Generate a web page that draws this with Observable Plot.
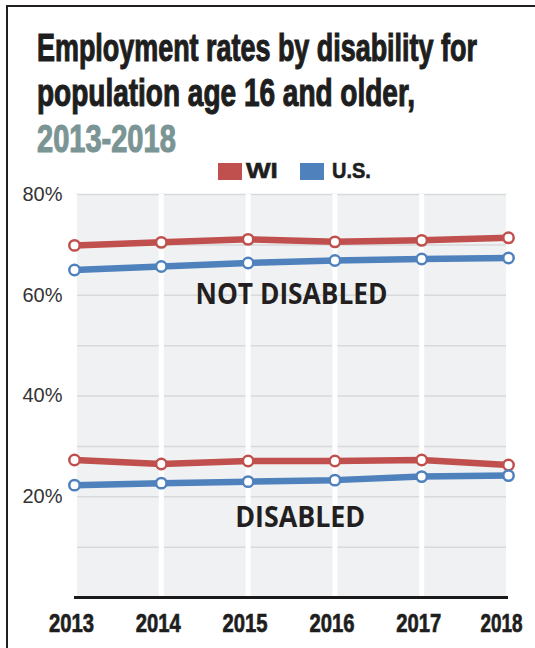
<!DOCTYPE html>
<html><head><meta charset="utf-8">
<script src="https://cdn.jsdelivr.net/npm/d3@7"></script>
<script src="https://cdn.jsdelivr.net/npm/@observablehq/plot@0.6"></script>
<style>
body{margin:0;background:#fff;}
#page{position:relative;width:535px;height:648px;overflow:hidden;background:#fff;}
#frame{position:absolute;left:6px;top:5px;width:600px;height:700px;border-left:2px solid #231f20;border-top:2px solid #231f20;}
.fit{position:absolute;white-space:nowrap;transform-origin:0 0;font-family:"Liberation Sans Narrow","Liberation Sans",Arial,sans-serif;font-weight:bold;}
.t{left:37px;font-size:38px;line-height:38px;color:#1e1e1e;-webkit-text-stroke:1.1px #1e1e1e;}
.lg{font-size:22px;line-height:22px;color:#1e1e1e;-webkit-text-stroke:0.6px #1e1e1e;}
.sw{position:absolute;width:24px;height:17px;top:163px;}
#chart{position:absolute;left:0;top:182px;}
</style></head>
<body><div id="page">
<div id="frame"></div>
<div class="fit t" id="t1" style="top:29px">Employment rates by disability for</div>
<div class="fit t" id="t2" style="top:74px">population age 16 and older,</div>
<div class="fit t" id="t3" style="top:120px;color:#7b9595;-webkit-text-stroke:1.1px #7b9595">2013-2018</div>
<div class="sw" style="left:218px;background:#c0504d"></div>
<div class="fit lg" id="l1" style="left:246px;top:160px">WI</div>
<div class="sw" style="left:300px;background:#4f81bd"></div>
<div class="fit lg" id="l2" style="left:332px;top:160px">U.S.</div>
<div id="chart"></div>
</div>
<script>
const years = [2013, 2014, 2015, 2016, 2017, 2018];
const wiNotDisabled = [69.9, 70.5, 71.1, 70.6, 70.9, 71.4];
const usNotDisabled = [65.0, 65.7, 66.4, 66.9, 67.2, 67.4];
const wiDisabled = [27.3, 26.5, 27.1, 27.1, 27.3, 26.3];
const usDisabled = [22.3, 22.7, 23.0, 23.3, 24.0, 24.2];
const regions = ["WI", "U.S."];
const regionColors = ["#c0504d", "#4f81bd"];
const yTicks = [20, 40, 60, 80];
const gridValues = [10, 20, 30, 40, 50, 60, 70, 80];
const labels = [
  {label: "NOT DISABLED", year: 2015.5, value: 60.1},
  {label: "DISABLED", year: 2015.6, value: 15.9}
];

const series = [
  {name: "WI not disabled", region: "WI", values: wiNotDisabled},
  {name: "U.S. not disabled", region: "U.S.", values: usNotDisabled},
  {name: "WI disabled", region: "WI", values: wiDisabled},
  {name: "U.S. disabled", region: "U.S.", values: usDisabled}
];
const rows = series.flatMap(s => s.values.map((v, i) => ({series: s.name, region: s.region, year: years[i], value: v})));

function fit(id, w) {
  const el = document.getElementById(id);
  el.style.transform = `scaleX(${w / el.offsetWidth})`;
}
fit("t1", 440); fit("t2", 378); fit("t3", 139);
fit("l1", 32); fit("l2", 39);

const chart = Plot.plot({
  width: 535, height: 466,
  marginTop: 12, marginBottom: 51, marginLeft: 74, marginRight: 27,
  x: {type: "linear", domain: [2013, 2018]},
  y: {domain: [0, 80]},
  color: {domain: regions, range: regionColors},
  style: {background: "transparent", overflow: "visible"},
  marks: [
    Plot.frame({fill: "#f0f1f3", stroke: "none"}),
    Plot.ruleY(gridValues, {stroke: "#d8d9db", strokeWidth: 1.5}),
    Plot.ruleX(years, {stroke: "#ffffff", strokeWidth: 5}),
    Plot.ruleY([0], {stroke: "#1a1a1a", strokeWidth: 3}),
    Plot.axisY(yTicks, {tickSize: 0, tickPadding: 12, tickFormat: d => d + "%", fontSize: 20,
      fontFamily: "'Liberation Sans', Arial, sans-serif", fill: "#333", label: null}),
    Plot.axisX(years, {tickSize: 0, tickPadding: 16, dx: -3, tickFormat: d => String(d), fontSize: 26, fontWeight: "bold",
      fontFamily: "'Liberation Sans Narrow','Liberation Sans', Arial, sans-serif", fill: "#1e1e1e", label: null}),
    Plot.line(rows, {x: "year", y: "value", z: "series", stroke: "region", strokeWidth: 6.5}),
    Plot.dot(rows, {x: "year", y: "value", stroke: "region", fill: "white", r: 5.2, strokeWidth: 2.5}),
    Plot.text(labels, {x: "year", y: "value", text: "label", fontSize: 29, fontWeight: "bold",
      fontFamily: "'Open Sans', sans-serif", fill: "#231f20"})
  ]
});
document.getElementById("chart").appendChild(chart);
const fits = {"NOT DISABLED": 192, "DISABLED": 130, "2013": 45, "2014": 45, "2015": 45, "2016": 45, "2017": 45, "2018": 42};
chart.querySelectorAll("text").forEach(t => {
  const key = t.textContent.trim();
  const w = fits[key];
  if (w) {
    t.setAttribute("textLength", w); t.setAttribute("lengthAdjust", "spacingAndGlyphs");
    if (/^\d{4}$/.test(key)) { t.style.stroke = "#1e1e1e"; t.style.strokeWidth = "0.7px"; }
    if (key === "2018") t.setAttribute("dx", "-4");
  }
});
</script>
</body></html>
